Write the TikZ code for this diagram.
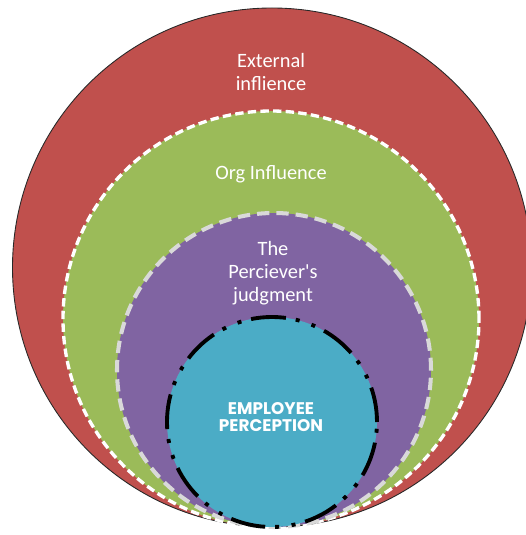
\documentclass[tikz,border=0pt]{standalone}
\usepackage{fontspec}
\setmainfont{Carlito}
\newfontfamily\capsfont{Poppins}
\usetikzlibrary{positioning}
\definecolor{outerRed}{RGB}{192,80,77}
\definecolor{orgGreen}{RGB}{155,187,89}
\definecolor{judgePurple}{RGB}{128,100,162}
\definecolor{coreTeal}{RGB}{75,172,198}
\definecolor{rimGray}{RGB}{217,217,217}
\definecolor{rimDark}{RGB}{40,40,40}

\begin{document}
\begin{tikzpicture}[
  ringlabel/.style={text=white, align=center, inner sep=0pt, font=\fontsize{11.6}{13.2}\selectfont},
  corelabel/.style={text=white, align=center, inner sep=0pt, font=\capsfont\bfseries\fontsize{9.6}{9.4}\selectfont},
]
\useasboundingbox (0,0) rectangle (10.52,10.7);
\clip (0,0) rectangle (10.52,10.7);

% outer ring: external influence
\fill[outerRed] (5.44,5.35) circle (5.19);
\draw[rimDark, line width=0.5pt] (5.44,5.35) circle (5.19);

% organisation ring, white dashes
\fill[orgGreen] (5.42,4.32) circle (4.16);
\draw[white, line width=1.9pt, dash pattern=on 4.8pt off 2.4pt] (5.42,4.32) circle (4.16);

% perceiver ring, grey dashes
\fill[judgePurple] (5.48,3.30) circle (3.14);
\draw[rimGray, line width=2.3pt, dash pattern=on 7pt off 4pt] (5.48,3.30) circle (3.14);

% core, long dash dot dot
\fill[coreTeal] (5.44,2.26) circle (2.10);
\draw[black, line width=2.2pt, dash pattern=on 0.7cm off 0.2cm on 0.08cm off 0.25cm on 0.08cm off 0.2cm] (5.44,2.26) circle (2.10);

% labels
\node[ringlabel] (external) at (5.42,9.26) {External\\inflience};
\node[ringlabel] (org) at (5.42,7.22) {Org Influence};
\node[ringlabel] (judge) at (5.46,5.24) {The\\Perciever\textquotesingle s\\judgment};
\node[corelabel] (core) at (5.42,2.36) {EMPLOYEE\\PERCEPTION};
\end{tikzpicture}
\end{document}
